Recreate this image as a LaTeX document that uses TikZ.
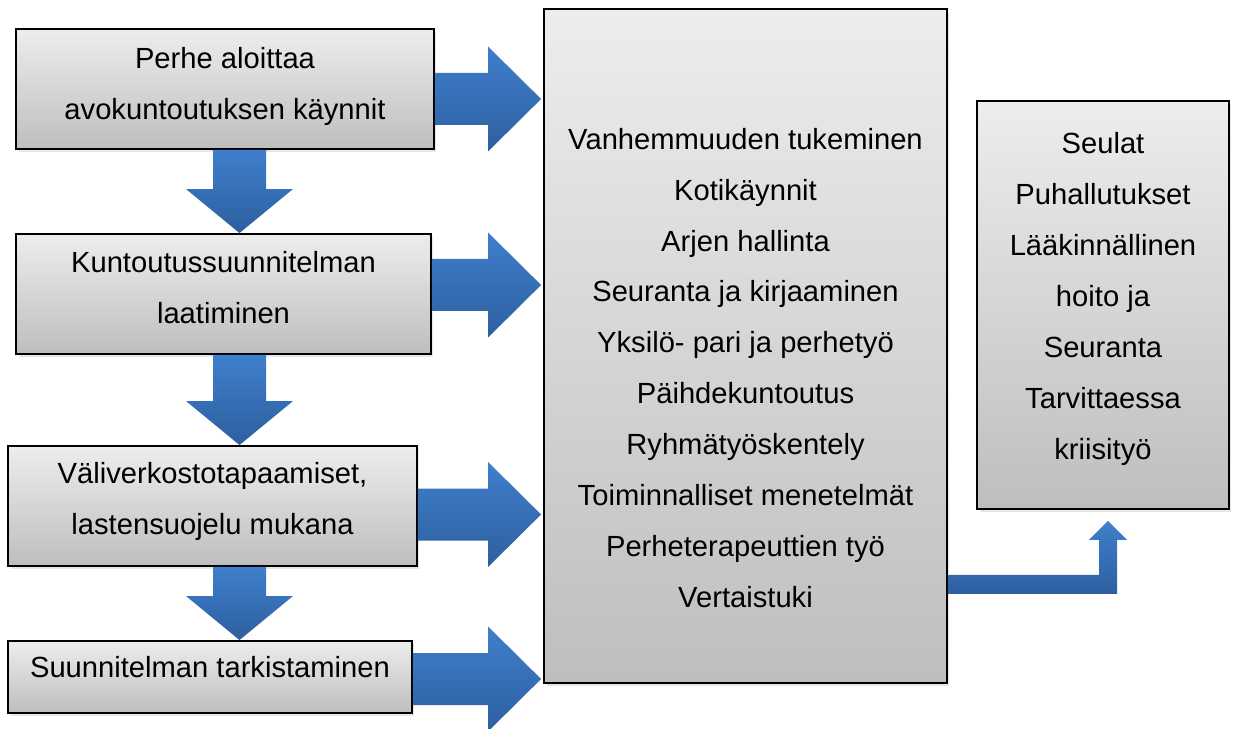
\documentclass[tikz,border=0pt]{standalone}
\usepackage{fontspec}
\setmainfont{Liberation Sans}
\usetikzlibrary{calc,shadows}
\definecolor{boxtop}{HTML}{EDEDED}
\definecolor{boxbottom}{HTML}{BEBEBE}
\definecolor{arrowtop}{HTML}{3F7FCC}
\definecolor{arrowbottom}{HTML}{2D5F9F}
\tikzset{
	box/.style={draw=black,line width=1.1pt,top color=boxtop,bottom color=boxbottom,
		drop shadow={opacity=0.2,shadow xshift=0.05cm,shadow yshift=-0.06cm}},
	txt/.style={align=center,font=\fontsize{16.6}{29}\selectfont},
	blockarrow/.style={top color=arrowtop,bottom color=arrowbottom}
}
% right block arrow: from #1 to the edge #2
\def\rightblock(#1)(#2)
{ \path[blockarrow] ($(#1)+(0,-26)$) -- ($(#1 -| #2)+(-55,-26)$) -- ($(#1 -| #2)+(-55,-52.5)$) --
	($(#1 -| #2)+(-2,0)$) -- ($(#1 -| #2)+(-55,52.5)$) -- ($(#1 -| #2)+(-55,26)$) -- ($(#1)+(0,26)$) -- cycle; }
% down block arrow: from #1 to the edge #2
\def\downblock(#1)(#2)
{ \path[blockarrow] ($(#1)+(-26.5,0)$) -- ($(#1 |- #2)+(-26.5,-44)$) -- ($(#1 |- #2)+(-53.5,-44)$) --
	(#1 |- #2) -- ($(#1 |- #2)+(53.5,-44)$) -- ($(#1 |- #2)+(26.5,-44)$) -- ($(#1)+(26.5,0)$) -- cycle; }

\begin{document}
\begin{tikzpicture}[x=0.02cm,y=-0.02cm]
	\useasboundingbox (0,0) rectangle (1237,729);

	%BOXES
	\node[box,minimum width=8.36cm,minimum height=2.4cm] (b1) at (225,89) {};
	\node[box,minimum width=8.3cm,minimum height=2.4cm] (b2) at (223.5,294) {};
	\node[box,minimum width=8.18cm,minimum height=2.4cm] (b3) at (212.5,506) {};
	\node[box,minimum width=8.08cm,minimum height=1.44cm] (b4) at (210,677) {};
	\node[box,minimum width=8.06cm,minimum height=13.48cm] (plan) at (745.5,346) {};
	\node[box,minimum width=5.04cm,minimum height=8.16cm] (care) at (1103,305) {};

	%ARROWS
	%into the big box
	\coordinate (a1) at ($(b1.east)+(0,10)$);
	\coordinate (a2) at ($(b2.east)+(0,-9)$);
	\coordinate (a3) at ($(b3.east)+(0,8.5)$);
	\coordinate (a4) at ($(b4.east)+(0,2)$);
	\rightblock(a1)(plan.west)
	\rightblock(a2)(plan.west)
	\rightblock(a3)(plan.west)
	\rightblock(a4)(plan.west)
	%down the left column
	\coordinate (d1) at ($(b1.south)+(14.5,0)$);
	\coordinate (d2) at ($(b2.south)+(16,0)$);
	\coordinate (d3) at ($(b3.south)+(27,0)$);
	\downblock(d1)(b2.north)
	\downblock(d2)(b3.north)
	\downblock(d3)(b4.north)
	%bent arrow to the right box
	\coordinate (c0) at ($(plan.south east)+(0,-99.5)$);
	\coordinate (c2) at ($(care.south)+(5,11)$);
	\coordinate (c1) at (c0 -| c2);
	\path[blockarrow] ($(c0)+(0,-9.5)$) -- ($(c1)+(-9,-9.5)$) -- ($(c2)+(-9,19)$) -- ($(c2)+(-19,19)$) --
		(c2) -- ($(c2)+(19,19)$) -- ($(c2)+(9,19)$) -- ($(c1)+(9,9.5)$) -- ($(c0)+(0,9.5)$) -- cycle;

	%LABELS
	\node[txt] (t1) at (225,86) {Perhe aloittaa\\avokuntoutuksen käynnit};
	\node[txt] (t2) at (223.5,288) {Kuntoutussuunnitelman\\laatiminen};
	\node[txt] (t3) at (212.5,501) {Väliverkostotapaamiset,\\lastensuojelu mukana};
	\node[txt] (t4) at (210,667) {Suunnitelman tarkistaminen};
	\node[txt] (plantxt) at (745.5,368) {Vanhemmuuden tukeminen\\Kotikäynnit\\Arjen hallinta\\
		Seuranta ja kirjaaminen\\Yksilö- pari ja perhetyö\\Päihdekuntoutus\\Ryhmätyöskentely\\
		Toiminnalliset menetelmät\\Perheterapeuttien työ\\Vertaistuki};
	\node[txt] (caretxt) at (1103,299) {Seulat\\Puhallutukset\\Lääkinnällinen\\hoito ja\\Seuranta\\
		Tarvittaessa\\kriisityö};
\end{tikzpicture}
\end{document}
